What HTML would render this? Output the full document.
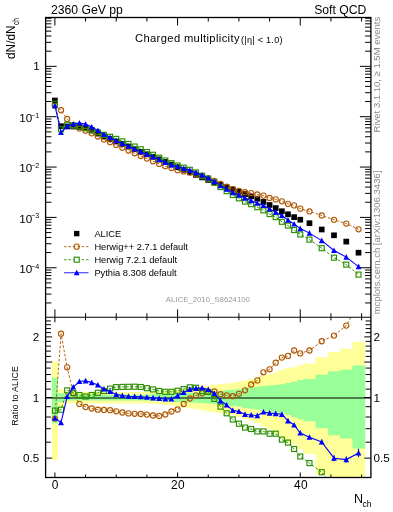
<!DOCTYPE html>
<html><head><meta charset="utf-8"><style>
html,body{margin:0;padding:0;background:#fff;width:393px;height:512px;overflow:hidden}
svg{display:block;will-change:transform}
text{font-family:"Liberation Sans",sans-serif;}
</style></head><body>
<svg width="393" height="512" viewBox="0 0 393 512">
<path d="M51.83,361.47L51.83,361.47L57.97,361.47L57.97,389.17L64.10,389.17L64.10,391.99L70.23,391.99L70.23,391.99L76.37,391.99L76.37,391.99L82.50,391.99L82.50,391.99L88.64,391.99L88.64,391.99L94.77,391.99L94.77,391.99L100.91,391.99L100.91,391.99L107.04,391.99L107.04,391.99L113.17,391.99L113.17,391.99L119.31,391.99L119.31,391.99L125.44,391.99L125.44,391.99L131.58,391.99L131.58,391.99L137.71,391.99L137.71,391.99L143.84,391.99L143.84,391.99L149.98,391.99L149.98,391.59L156.11,391.59L156.11,391.18L162.25,391.18L162.25,390.77L168.38,390.77L168.38,390.17L174.51,390.17L174.51,389.57L180.65,389.57L180.65,388.74L186.78,388.74L186.78,387.92L192.92,387.92L192.92,387.11L199.05,387.11L199.05,386.31L205.18,386.31L205.18,385.51L211.32,385.51L211.32,384.80L217.45,384.80L217.45,384.10L223.59,384.10L223.59,383.40L229.72,383.40L229.72,382.81L235.85,382.81L235.85,381.56L241.99,381.56L241.99,380.47L248.12,380.47L248.12,379.19L254.26,379.19L254.26,377.71L260.39,377.71L260.39,375.78L266.52,375.78L266.52,374.23L272.66,374.23L272.66,372.24L278.79,372.24L278.79,369.72L284.93,369.72L284.93,367.90L291.06,367.90L291.06,367.15L297.19,367.15L297.19,365.26L303.33,365.26L303.33,363.58L315.59,363.58L315.59,357.18L327.86,357.18L327.86,351.89L340.13,351.89L340.13,348.78L352.40,348.78L352.40,341.85L365.28,341.85L365.28,477.50L352.40,477.50L352.40,477.50L340.13,477.50L340.13,477.50L327.86,477.50L327.86,474.60L315.59,474.60L315.59,453.67L303.33,453.67L303.33,449.13L297.19,449.13L297.19,444.37L291.06,444.37L291.06,442.60L284.93,442.60L284.93,438.45L278.79,438.45L278.79,433.17L272.66,433.17L272.66,429.31L266.52,429.31L266.52,426.46L260.39,426.46L260.39,423.12L254.26,423.12L254.26,420.69L248.12,420.69L248.12,418.66L241.99,418.66L241.99,417.01L235.85,417.01L235.85,415.17L229.72,415.17L229.72,414.32L223.59,414.32L223.59,413.33L217.45,413.33L217.45,412.36L211.32,412.36L211.32,411.40L205.18,411.40L205.18,410.34L199.05,410.34L199.05,409.29L192.92,409.29L192.92,408.26L186.78,408.26L186.78,407.24L180.65,407.24L180.65,406.23L174.51,406.23L174.51,405.51L168.38,405.51L168.38,404.79L162.25,404.79L162.25,404.32L156.11,404.32L156.11,403.84L149.98,403.84L149.98,403.38L143.84,403.38L143.84,403.38L137.71,403.38L137.71,403.38L131.58,403.38L131.58,403.38L125.44,403.38L125.44,403.38L119.31,403.38L119.31,403.38L113.17,403.38L113.17,403.38L107.04,403.38L107.04,403.38L100.91,403.38L100.91,403.38L94.77,403.38L94.77,403.38L88.64,403.38L88.64,403.38L82.50,403.38L82.50,403.38L76.37,403.38L76.37,403.38L70.23,403.38L70.23,403.38L64.10,403.38L64.10,406.71L57.97,406.71L57.97,459.86L51.83,459.86Z" fill="#ffff99"/>
<path d="M51.83,377.64L51.83,377.64L57.97,377.64L57.97,393.23L64.10,393.23L64.10,394.66L70.23,394.66L70.23,394.66L76.37,394.66L76.37,394.66L82.50,394.66L82.50,394.66L88.64,394.66L88.64,394.66L94.77,394.66L94.77,394.66L100.91,394.66L100.91,394.66L107.04,394.66L107.04,394.66L113.17,394.66L113.17,394.66L119.31,394.66L119.31,394.66L125.44,394.66L125.44,394.66L131.58,394.66L131.58,394.66L137.71,394.66L137.71,394.66L143.84,394.66L143.84,394.66L149.98,394.66L149.98,394.37L156.11,394.37L156.11,394.09L162.25,394.09L162.25,393.80L168.38,393.80L168.38,393.52L174.51,393.52L174.51,393.23L180.65,393.23L180.65,392.99L186.78,392.99L186.78,392.74L192.92,392.74L192.92,392.49L199.05,392.49L199.05,392.24L205.18,392.24L205.18,391.99L211.32,391.99L211.32,391.45L217.45,391.45L217.45,390.91L223.59,390.91L223.59,390.37L229.72,390.37L229.72,389.81L235.85,389.81L235.85,389.25L241.99,389.25L241.99,388.22L248.12,388.22L248.12,387.59L254.26,387.59L254.26,386.89L260.39,386.89L260.39,386.05L266.52,386.05L266.52,385.43L272.66,385.43L272.66,384.98L278.79,384.98L278.79,384.37L284.93,384.37L284.93,382.88L291.06,382.88L291.06,381.63L297.19,381.63L297.19,380.12L303.33,380.12L303.33,378.91L315.59,378.91L315.59,374.77L327.86,374.77L327.86,371.26L340.13,371.26L340.13,369.66L352.40,369.66L352.40,365.50L365.28,365.50L365.28,448.50L352.40,448.50L352.40,438.59L340.13,438.59L340.13,435.16L327.86,435.16L327.86,428.31L315.59,428.31L315.59,421.15L303.33,421.15L303.33,419.22L297.19,419.22L297.19,416.90L291.06,416.90L291.06,415.06L284.93,415.06L284.93,412.95L278.79,412.95L278.79,412.12L272.66,412.12L272.66,411.50L266.52,411.50L266.52,410.69L260.39,410.69L260.39,409.57L254.26,409.57L254.26,408.68L248.12,408.68L248.12,407.88L241.99,407.88L241.99,406.61L235.85,406.61L235.85,405.94L229.72,405.94L229.72,405.27L223.59,405.27L223.59,404.63L217.45,404.63L217.45,404.00L211.32,404.00L211.32,403.38L205.18,403.38L205.18,403.10L199.05,403.10L199.05,402.82L192.92,402.82L192.92,402.54L186.78,402.54L186.78,402.26L180.65,402.26L180.65,401.98L174.51,401.98L174.51,401.67L168.38,401.67L168.38,401.36L162.25,401.36L162.25,401.05L156.11,401.05L156.11,400.74L149.98,400.74L149.98,400.43L143.84,400.43L143.84,400.43L137.71,400.43L137.71,400.43L131.58,400.43L131.58,400.43L125.44,400.43L125.44,400.43L119.31,400.43L119.31,400.43L113.17,400.43L113.17,400.43L107.04,400.43L107.04,400.43L100.91,400.43L100.91,400.43L94.77,400.43L94.77,400.43L88.64,400.43L88.64,400.43L82.50,400.43L82.50,400.43L76.37,400.43L76.37,400.43L70.23,400.43L70.23,400.43L64.10,400.43L64.10,401.98L57.97,401.98L57.97,423.23L51.83,423.23Z" fill="#99ff99"/>
<path d="M54.90,17.5v8M54.90,317.3v-8M54.90,317.3v5M54.90,477.5v-5M85.57,17.5v4M85.57,317.3v-4M85.57,317.3v3M85.57,477.5v-3M116.24,17.5v4M116.24,317.3v-4M116.24,317.3v3M116.24,477.5v-3M146.91,17.5v4M146.91,317.3v-4M146.91,317.3v3M146.91,477.5v-3M177.58,17.5v8M177.58,317.3v-8M177.58,317.3v5M177.58,477.5v-5M208.25,17.5v4M208.25,317.3v-4M208.25,317.3v3M208.25,477.5v-3M238.92,17.5v4M238.92,317.3v-4M238.92,317.3v3M238.92,477.5v-3M269.59,17.5v4M269.59,317.3v-4M269.59,317.3v3M269.59,477.5v-3M300.26,17.5v8M300.26,317.3v-8M300.26,317.3v5M300.26,477.5v-5M330.93,17.5v4M330.93,317.3v-4M330.93,317.3v3M330.93,477.5v-3M361.60,17.5v4M361.60,317.3v-4M361.60,317.3v3M361.60,477.5v-3M45.6,302.94h5.8M370.9,302.94h-5.8M45.6,294.08h5.8M370.9,294.08h-5.8M45.6,287.79h5.8M370.9,287.79h-5.8M45.6,282.91h5.8M370.9,282.91h-5.8M45.6,278.92h5.8M370.9,278.92h-5.8M45.6,275.55h5.8M370.9,275.55h-5.8M45.6,272.63h5.8M370.9,272.63h-5.8M45.6,270.05h5.8M370.9,270.05h-5.8M45.6,267.75h11M370.9,267.75h-11M45.6,252.59h5.8M370.9,252.59h-5.8M45.6,243.73h5.8M370.9,243.73h-5.8M45.6,237.44h5.8M370.9,237.44h-5.8M45.6,232.56h5.8M370.9,232.56h-5.8M45.6,228.57h5.8M370.9,228.57h-5.8M45.6,225.20h5.8M370.9,225.20h-5.8M45.6,222.28h5.8M370.9,222.28h-5.8M45.6,219.70h5.8M370.9,219.70h-5.8M45.6,217.40h11M370.9,217.40h-11M45.6,202.24h5.8M370.9,202.24h-5.8M45.6,193.38h5.8M370.9,193.38h-5.8M45.6,187.09h5.8M370.9,187.09h-5.8M45.6,182.21h5.8M370.9,182.21h-5.8M45.6,178.22h5.8M370.9,178.22h-5.8M45.6,174.85h5.8M370.9,174.85h-5.8M45.6,171.93h5.8M370.9,171.93h-5.8M45.6,169.35h5.8M370.9,169.35h-5.8M45.6,167.05h11M370.9,167.05h-11M45.6,151.89h5.8M370.9,151.89h-5.8M45.6,143.03h5.8M370.9,143.03h-5.8M45.6,136.74h5.8M370.9,136.74h-5.8M45.6,131.86h5.8M370.9,131.86h-5.8M45.6,127.87h5.8M370.9,127.87h-5.8M45.6,124.50h5.8M370.9,124.50h-5.8M45.6,121.58h5.8M370.9,121.58h-5.8M45.6,119.00h5.8M370.9,119.00h-5.8M45.6,116.70h11M370.9,116.70h-11M45.6,101.54h5.8M370.9,101.54h-5.8M45.6,92.68h5.8M370.9,92.68h-5.8M45.6,86.39h5.8M370.9,86.39h-5.8M45.6,81.51h5.8M370.9,81.51h-5.8M45.6,77.52h5.8M370.9,77.52h-5.8M45.6,74.15h5.8M370.9,74.15h-5.8M45.6,71.23h5.8M370.9,71.23h-5.8M45.6,68.65h5.8M370.9,68.65h-5.8M45.6,66.35h11M370.9,66.35h-11M45.6,51.19h5.8M370.9,51.19h-5.8M45.6,42.33h5.8M370.9,42.33h-5.8M45.6,36.04h5.8M370.9,36.04h-5.8M45.6,31.16h5.8M370.9,31.16h-5.8M45.6,27.17h5.8M370.9,27.17h-5.8M45.6,23.80h5.8M370.9,23.80h-5.8M45.6,20.88h5.8M370.9,20.88h-5.8M45.6,18.30h5.8M370.9,18.30h-5.8M45.6,458.10h6.6M370.9,458.10h-6.6M45.6,442.16h5.3M370.9,442.16h-5.3M45.6,428.68h5.3M370.9,428.68h-5.3M45.6,417.01h5.3M370.9,417.01h-5.3M45.6,406.71h5.3M370.9,406.71h-5.3M45.6,397.50h6.6M370.9,397.50h-6.6M45.6,389.17h5.3M370.9,389.17h-5.3M45.6,381.56h5.3M370.9,381.56h-5.3M45.6,374.56h5.3M370.9,374.56h-5.3M45.6,368.08h5.3M370.9,368.08h-5.3M45.6,362.05h6.6M370.9,362.05h-6.6M45.6,356.41h5.3M370.9,356.41h-5.3M45.6,351.11h5.3M370.9,351.11h-5.3M45.6,346.11h5.3M370.9,346.11h-5.3M45.6,341.39h5.3M370.9,341.39h-5.3M45.6,336.90h6.6M370.9,336.90h-6.6M45.6,332.64h5.3M370.9,332.64h-5.3M45.6,328.57h5.3M370.9,328.57h-5.3M45.6,324.68h5.3M370.9,324.68h-5.3M45.6,320.96h5.3M370.9,320.96h-5.3" stroke="#000" stroke-width="1" fill="none"/>
<line x1="45.6" y1="397.95" x2="370.9" y2="397.95" stroke="#000" stroke-width="1.05"/>
<defs><clipPath id="c1"><rect x="45.5" y="17.5" width="325.8" height="299.8"/></clipPath><clipPath id="c2"><rect x="45.5" y="317.3" width="325.8" height="160.4"/></clipPath></defs>
<path d="M321.73,439.50v5.00M334.00,455.20v6.00M346.26,456.60v6.00M358.53,448.80v8.40" stroke="#0000ff" stroke-width="1.1" fill="none"/>
<g clip-path="url(#c2)"><polyline points="54.90,418.60 61.03,333.70 67.17,367.30 73.30,393.30 79.44,403.90 85.57,407.00 91.70,408.50 97.84,409.70 103.97,410.00 110.11,410.20 116.24,411.30 122.37,412.50 128.51,413.40 134.64,413.80 140.78,414.00 146.91,414.60 153.04,415.50 159.18,416.00 165.31,414.50 171.45,411.50 177.58,409.50 183.71,404.00 189.85,398.50 195.98,395.30 202.12,393.30 208.25,391.80 214.38,391.50 220.52,394.20 226.65,395.30 232.79,396.20 238.92,393.80 245.05,390.30 251.19,384.50 257.32,380.40 263.46,372.30 269.59,369.30 275.72,362.70 281.86,357.60 287.99,355.90 294.13,350.50 300.26,353.40 309.46,350.50 321.73,341.25 334.00,335.60 346.26,325.60 358.53,303.90" fill="none" stroke="#b05800" stroke-width="0.95" stroke-dasharray="2.6,1.8"/>
<circle cx="54.90" cy="418.60" r="2.6" fill="none" stroke="#b05800" stroke-width="1.1"/>
<circle cx="61.03" cy="333.70" r="2.6" fill="none" stroke="#b05800" stroke-width="1.1"/>
<circle cx="67.17" cy="367.30" r="2.6" fill="none" stroke="#b05800" stroke-width="1.1"/>
<circle cx="73.30" cy="393.30" r="2.6" fill="none" stroke="#b05800" stroke-width="1.1"/>
<circle cx="79.44" cy="403.90" r="2.6" fill="none" stroke="#b05800" stroke-width="1.1"/>
<circle cx="85.57" cy="407.00" r="2.6" fill="none" stroke="#b05800" stroke-width="1.1"/>
<circle cx="91.70" cy="408.50" r="2.6" fill="none" stroke="#b05800" stroke-width="1.1"/>
<circle cx="97.84" cy="409.70" r="2.6" fill="none" stroke="#b05800" stroke-width="1.1"/>
<circle cx="103.97" cy="410.00" r="2.6" fill="none" stroke="#b05800" stroke-width="1.1"/>
<circle cx="110.11" cy="410.20" r="2.6" fill="none" stroke="#b05800" stroke-width="1.1"/>
<circle cx="116.24" cy="411.30" r="2.6" fill="none" stroke="#b05800" stroke-width="1.1"/>
<circle cx="122.37" cy="412.50" r="2.6" fill="none" stroke="#b05800" stroke-width="1.1"/>
<circle cx="128.51" cy="413.40" r="2.6" fill="none" stroke="#b05800" stroke-width="1.1"/>
<circle cx="134.64" cy="413.80" r="2.6" fill="none" stroke="#b05800" stroke-width="1.1"/>
<circle cx="140.78" cy="414.00" r="2.6" fill="none" stroke="#b05800" stroke-width="1.1"/>
<circle cx="146.91" cy="414.60" r="2.6" fill="none" stroke="#b05800" stroke-width="1.1"/>
<circle cx="153.04" cy="415.50" r="2.6" fill="none" stroke="#b05800" stroke-width="1.1"/>
<circle cx="159.18" cy="416.00" r="2.6" fill="none" stroke="#b05800" stroke-width="1.1"/>
<circle cx="165.31" cy="414.50" r="2.6" fill="none" stroke="#b05800" stroke-width="1.1"/>
<circle cx="171.45" cy="411.50" r="2.6" fill="none" stroke="#b05800" stroke-width="1.1"/>
<circle cx="177.58" cy="409.50" r="2.6" fill="none" stroke="#b05800" stroke-width="1.1"/>
<circle cx="183.71" cy="404.00" r="2.6" fill="none" stroke="#b05800" stroke-width="1.1"/>
<circle cx="189.85" cy="398.50" r="2.6" fill="none" stroke="#b05800" stroke-width="1.1"/>
<circle cx="195.98" cy="395.30" r="2.6" fill="none" stroke="#b05800" stroke-width="1.1"/>
<circle cx="202.12" cy="393.30" r="2.6" fill="none" stroke="#b05800" stroke-width="1.1"/>
<circle cx="208.25" cy="391.80" r="2.6" fill="none" stroke="#b05800" stroke-width="1.1"/>
<circle cx="214.38" cy="391.50" r="2.6" fill="none" stroke="#b05800" stroke-width="1.1"/>
<circle cx="220.52" cy="394.20" r="2.6" fill="none" stroke="#b05800" stroke-width="1.1"/>
<circle cx="226.65" cy="395.30" r="2.6" fill="none" stroke="#b05800" stroke-width="1.1"/>
<circle cx="232.79" cy="396.20" r="2.6" fill="none" stroke="#b05800" stroke-width="1.1"/>
<circle cx="238.92" cy="393.80" r="2.6" fill="none" stroke="#b05800" stroke-width="1.1"/>
<circle cx="245.05" cy="390.30" r="2.6" fill="none" stroke="#b05800" stroke-width="1.1"/>
<circle cx="251.19" cy="384.50" r="2.6" fill="none" stroke="#b05800" stroke-width="1.1"/>
<circle cx="257.32" cy="380.40" r="2.6" fill="none" stroke="#b05800" stroke-width="1.1"/>
<circle cx="263.46" cy="372.30" r="2.6" fill="none" stroke="#b05800" stroke-width="1.1"/>
<circle cx="269.59" cy="369.30" r="2.6" fill="none" stroke="#b05800" stroke-width="1.1"/>
<circle cx="275.72" cy="362.70" r="2.6" fill="none" stroke="#b05800" stroke-width="1.1"/>
<circle cx="281.86" cy="357.60" r="2.6" fill="none" stroke="#b05800" stroke-width="1.1"/>
<circle cx="287.99" cy="355.90" r="2.6" fill="none" stroke="#b05800" stroke-width="1.1"/>
<circle cx="294.13" cy="350.50" r="2.6" fill="none" stroke="#b05800" stroke-width="1.1"/>
<circle cx="300.26" cy="353.40" r="2.6" fill="none" stroke="#b05800" stroke-width="1.1"/>
<circle cx="309.46" cy="350.50" r="2.6" fill="none" stroke="#b05800" stroke-width="1.1"/>
<circle cx="321.73" cy="341.25" r="2.6" fill="none" stroke="#b05800" stroke-width="1.1"/>
<circle cx="334.00" cy="335.60" r="2.6" fill="none" stroke="#b05800" stroke-width="1.1"/>
<circle cx="346.26" cy="325.60" r="2.6" fill="none" stroke="#b05800" stroke-width="1.1"/>
<circle cx="358.53" cy="303.90" r="2.6" fill="none" stroke="#b05800" stroke-width="1.1"/>
</g>
<g clip-path="url(#c2)"><polyline points="54.90,410.60 61.03,409.70 67.17,390.40 73.30,393.00 79.44,395.00 85.57,396.50 91.70,395.00 97.84,392.80 103.97,391.00 110.11,388.60 116.24,387.10 122.37,386.90 128.51,386.80 134.64,386.70 140.78,387.00 146.91,388.20 153.04,389.40 159.18,391.00 165.31,391.80 171.45,391.80 177.58,390.70 183.71,389.10 189.85,387.30 195.98,387.70 202.12,391.00 208.25,392.00 214.38,398.90 220.52,406.60 226.65,413.30 232.79,419.50 238.92,423.70 245.05,427.60 251.19,429.00 257.32,431.40 263.46,431.40 269.59,433.70 275.72,433.70 281.86,439.60 287.99,442.60 294.13,449.00 300.26,456.50 309.46,463.10 321.73,472.20 334.00,487.00 346.26,489.50 358.53,485.10" fill="none" stroke="#2a8e00" stroke-width="0.95" stroke-dasharray="2.6,1.8"/>
<rect x="52.40" y="408.10" width="5.0" height="5.0" fill="none" stroke="#2a8e00" stroke-width="1.15"/>
<rect x="58.53" y="407.20" width="5.0" height="5.0" fill="none" stroke="#2a8e00" stroke-width="1.15"/>
<rect x="64.67" y="387.90" width="5.0" height="5.0" fill="none" stroke="#2a8e00" stroke-width="1.15"/>
<rect x="70.80" y="390.50" width="5.0" height="5.0" fill="none" stroke="#2a8e00" stroke-width="1.15"/>
<rect x="76.94" y="392.50" width="5.0" height="5.0" fill="none" stroke="#2a8e00" stroke-width="1.15"/>
<rect x="83.07" y="394.00" width="5.0" height="5.0" fill="none" stroke="#2a8e00" stroke-width="1.15"/>
<rect x="89.20" y="392.50" width="5.0" height="5.0" fill="none" stroke="#2a8e00" stroke-width="1.15"/>
<rect x="95.34" y="390.30" width="5.0" height="5.0" fill="none" stroke="#2a8e00" stroke-width="1.15"/>
<rect x="101.47" y="388.50" width="5.0" height="5.0" fill="none" stroke="#2a8e00" stroke-width="1.15"/>
<rect x="107.61" y="386.10" width="5.0" height="5.0" fill="none" stroke="#2a8e00" stroke-width="1.15"/>
<rect x="113.74" y="384.60" width="5.0" height="5.0" fill="none" stroke="#2a8e00" stroke-width="1.15"/>
<rect x="119.87" y="384.40" width="5.0" height="5.0" fill="none" stroke="#2a8e00" stroke-width="1.15"/>
<rect x="126.01" y="384.30" width="5.0" height="5.0" fill="none" stroke="#2a8e00" stroke-width="1.15"/>
<rect x="132.14" y="384.20" width="5.0" height="5.0" fill="none" stroke="#2a8e00" stroke-width="1.15"/>
<rect x="138.28" y="384.50" width="5.0" height="5.0" fill="none" stroke="#2a8e00" stroke-width="1.15"/>
<rect x="144.41" y="385.70" width="5.0" height="5.0" fill="none" stroke="#2a8e00" stroke-width="1.15"/>
<rect x="150.54" y="386.90" width="5.0" height="5.0" fill="none" stroke="#2a8e00" stroke-width="1.15"/>
<rect x="156.68" y="388.50" width="5.0" height="5.0" fill="none" stroke="#2a8e00" stroke-width="1.15"/>
<rect x="162.81" y="389.30" width="5.0" height="5.0" fill="none" stroke="#2a8e00" stroke-width="1.15"/>
<rect x="168.95" y="389.30" width="5.0" height="5.0" fill="none" stroke="#2a8e00" stroke-width="1.15"/>
<rect x="175.08" y="388.20" width="5.0" height="5.0" fill="none" stroke="#2a8e00" stroke-width="1.15"/>
<rect x="181.21" y="386.60" width="5.0" height="5.0" fill="none" stroke="#2a8e00" stroke-width="1.15"/>
<rect x="187.35" y="384.80" width="5.0" height="5.0" fill="none" stroke="#2a8e00" stroke-width="1.15"/>
<rect x="193.48" y="385.20" width="5.0" height="5.0" fill="none" stroke="#2a8e00" stroke-width="1.15"/>
<rect x="199.62" y="388.50" width="5.0" height="5.0" fill="none" stroke="#2a8e00" stroke-width="1.15"/>
<rect x="205.75" y="389.50" width="5.0" height="5.0" fill="none" stroke="#2a8e00" stroke-width="1.15"/>
<rect x="211.88" y="396.40" width="5.0" height="5.0" fill="none" stroke="#2a8e00" stroke-width="1.15"/>
<rect x="218.02" y="404.10" width="5.0" height="5.0" fill="none" stroke="#2a8e00" stroke-width="1.15"/>
<rect x="224.15" y="410.80" width="5.0" height="5.0" fill="none" stroke="#2a8e00" stroke-width="1.15"/>
<rect x="230.29" y="417.00" width="5.0" height="5.0" fill="none" stroke="#2a8e00" stroke-width="1.15"/>
<rect x="236.42" y="421.20" width="5.0" height="5.0" fill="none" stroke="#2a8e00" stroke-width="1.15"/>
<rect x="242.55" y="425.10" width="5.0" height="5.0" fill="none" stroke="#2a8e00" stroke-width="1.15"/>
<rect x="248.69" y="426.50" width="5.0" height="5.0" fill="none" stroke="#2a8e00" stroke-width="1.15"/>
<rect x="254.82" y="428.90" width="5.0" height="5.0" fill="none" stroke="#2a8e00" stroke-width="1.15"/>
<rect x="260.96" y="428.90" width="5.0" height="5.0" fill="none" stroke="#2a8e00" stroke-width="1.15"/>
<rect x="267.09" y="431.20" width="5.0" height="5.0" fill="none" stroke="#2a8e00" stroke-width="1.15"/>
<rect x="273.22" y="431.20" width="5.0" height="5.0" fill="none" stroke="#2a8e00" stroke-width="1.15"/>
<rect x="279.36" y="437.10" width="5.0" height="5.0" fill="none" stroke="#2a8e00" stroke-width="1.15"/>
<rect x="285.49" y="440.10" width="5.0" height="5.0" fill="none" stroke="#2a8e00" stroke-width="1.15"/>
<rect x="291.63" y="446.50" width="5.0" height="5.0" fill="none" stroke="#2a8e00" stroke-width="1.15"/>
<rect x="297.76" y="454.00" width="5.0" height="5.0" fill="none" stroke="#2a8e00" stroke-width="1.15"/>
<rect x="306.96" y="460.60" width="5.0" height="5.0" fill="none" stroke="#2a8e00" stroke-width="1.15"/>
<rect x="319.23" y="469.70" width="5.0" height="5.0" fill="none" stroke="#2a8e00" stroke-width="1.15"/>
<rect x="331.50" y="484.50" width="5.0" height="5.0" fill="none" stroke="#2a8e00" stroke-width="1.15"/>
<rect x="343.76" y="487.00" width="5.0" height="5.0" fill="none" stroke="#2a8e00" stroke-width="1.15"/>
<rect x="356.03" y="482.60" width="5.0" height="5.0" fill="none" stroke="#2a8e00" stroke-width="1.15"/>
</g>
<g clip-path="url(#c2)"><polyline points="54.90,418.20 61.03,422.60 67.17,396.50 73.30,387.00 79.44,381.50 85.57,380.80 91.70,382.60 97.84,385.00 103.97,389.00 110.11,391.50 116.24,394.40 122.37,395.50 128.51,396.20 134.64,396.50 140.78,396.70 146.91,397.20 153.04,397.80 159.18,398.30 165.31,399.00 171.45,398.90 177.58,395.80 183.71,392.40 189.85,389.30 195.98,388.30 202.12,388.00 208.25,389.50 214.38,393.50 220.52,400.80 226.65,405.00 232.79,410.40 238.92,411.50 245.05,414.30 251.19,415.00 257.32,415.60 263.46,412.00 269.59,413.10 275.72,413.60 281.86,414.30 287.99,420.80 294.13,425.00 300.26,433.00 309.46,437.20 321.73,442.00 334.00,458.20 346.26,459.60 358.53,453.00" fill="none" stroke="#0000ff" stroke-width="1.1"/>
<path d="M52.00,420.80 L57.80,420.80 L54.90,415.20 Z" fill="#0000ff"/>
<path d="M58.13,425.20 L63.93,425.20 L61.03,419.60 Z" fill="#0000ff"/>
<path d="M64.27,399.10 L70.07,399.10 L67.17,393.50 Z" fill="#0000ff"/>
<path d="M70.40,389.60 L76.20,389.60 L73.30,384.00 Z" fill="#0000ff"/>
<path d="M76.54,384.10 L82.34,384.10 L79.44,378.50 Z" fill="#0000ff"/>
<path d="M82.67,383.40 L88.47,383.40 L85.57,377.80 Z" fill="#0000ff"/>
<path d="M88.80,385.20 L94.60,385.20 L91.70,379.60 Z" fill="#0000ff"/>
<path d="M94.94,387.60 L100.74,387.60 L97.84,382.00 Z" fill="#0000ff"/>
<path d="M101.07,391.60 L106.87,391.60 L103.97,386.00 Z" fill="#0000ff"/>
<path d="M107.21,394.10 L113.01,394.10 L110.11,388.50 Z" fill="#0000ff"/>
<path d="M113.34,397.00 L119.14,397.00 L116.24,391.40 Z" fill="#0000ff"/>
<path d="M119.47,398.10 L125.27,398.10 L122.37,392.50 Z" fill="#0000ff"/>
<path d="M125.61,398.80 L131.41,398.80 L128.51,393.20 Z" fill="#0000ff"/>
<path d="M131.74,399.10 L137.54,399.10 L134.64,393.50 Z" fill="#0000ff"/>
<path d="M137.88,399.30 L143.68,399.30 L140.78,393.70 Z" fill="#0000ff"/>
<path d="M144.01,399.80 L149.81,399.80 L146.91,394.20 Z" fill="#0000ff"/>
<path d="M150.14,400.40 L155.94,400.40 L153.04,394.80 Z" fill="#0000ff"/>
<path d="M156.28,400.90 L162.08,400.90 L159.18,395.30 Z" fill="#0000ff"/>
<path d="M162.41,401.60 L168.21,401.60 L165.31,396.00 Z" fill="#0000ff"/>
<path d="M168.55,401.50 L174.35,401.50 L171.45,395.90 Z" fill="#0000ff"/>
<path d="M174.68,398.40 L180.48,398.40 L177.58,392.80 Z" fill="#0000ff"/>
<path d="M180.81,395.00 L186.61,395.00 L183.71,389.40 Z" fill="#0000ff"/>
<path d="M186.95,391.90 L192.75,391.90 L189.85,386.30 Z" fill="#0000ff"/>
<path d="M193.08,390.90 L198.88,390.90 L195.98,385.30 Z" fill="#0000ff"/>
<path d="M199.22,390.60 L205.02,390.60 L202.12,385.00 Z" fill="#0000ff"/>
<path d="M205.35,392.10 L211.15,392.10 L208.25,386.50 Z" fill="#0000ff"/>
<path d="M211.48,396.10 L217.28,396.10 L214.38,390.50 Z" fill="#0000ff"/>
<path d="M217.62,403.40 L223.42,403.40 L220.52,397.80 Z" fill="#0000ff"/>
<path d="M223.75,407.60 L229.55,407.60 L226.65,402.00 Z" fill="#0000ff"/>
<path d="M229.89,413.00 L235.69,413.00 L232.79,407.40 Z" fill="#0000ff"/>
<path d="M236.02,414.10 L241.82,414.10 L238.92,408.50 Z" fill="#0000ff"/>
<path d="M242.15,416.90 L247.95,416.90 L245.05,411.30 Z" fill="#0000ff"/>
<path d="M248.29,417.60 L254.09,417.60 L251.19,412.00 Z" fill="#0000ff"/>
<path d="M254.42,418.20 L260.22,418.20 L257.32,412.60 Z" fill="#0000ff"/>
<path d="M260.56,414.60 L266.36,414.60 L263.46,409.00 Z" fill="#0000ff"/>
<path d="M266.69,415.70 L272.49,415.70 L269.59,410.10 Z" fill="#0000ff"/>
<path d="M272.82,416.20 L278.62,416.20 L275.72,410.60 Z" fill="#0000ff"/>
<path d="M278.96,416.90 L284.76,416.90 L281.86,411.30 Z" fill="#0000ff"/>
<path d="M285.09,423.40 L290.89,423.40 L287.99,417.80 Z" fill="#0000ff"/>
<path d="M291.23,427.60 L297.03,427.60 L294.13,422.00 Z" fill="#0000ff"/>
<path d="M297.36,435.60 L303.16,435.60 L300.26,430.00 Z" fill="#0000ff"/>
<path d="M306.56,439.80 L312.36,439.80 L309.46,434.20 Z" fill="#0000ff"/>
<path d="M318.83,444.60 L324.63,444.60 L321.73,439.00 Z" fill="#0000ff"/>
<path d="M331.10,460.80 L336.90,460.80 L334.00,455.20 Z" fill="#0000ff"/>
<path d="M343.37,462.20 L349.16,462.20 L346.26,456.60 Z" fill="#0000ff"/>
<path d="M355.63,455.60 L361.43,455.60 L358.53,450.00 Z" fill="#0000ff"/>
</g>
<g clip-path="url(#c1)">
<rect x="52.05" y="97.65" width="5.7" height="5.7" fill="#000"/>
<rect x="58.18" y="123.35" width="5.7" height="5.7" fill="#000"/>
<rect x="64.32" y="123.65" width="5.7" height="5.7" fill="#000"/>
<rect x="70.45" y="123.65" width="5.7" height="5.7" fill="#000"/>
<rect x="76.59" y="124.15" width="5.7" height="5.7" fill="#000"/>
<rect x="82.72" y="125.45" width="5.7" height="5.7" fill="#000"/>
<rect x="88.85" y="127.75" width="5.7" height="5.7" fill="#000"/>
<rect x="94.99" y="130.65" width="5.7" height="5.7" fill="#000"/>
<rect x="101.12" y="133.65" width="5.7" height="5.7" fill="#000"/>
<rect x="107.26" y="136.15" width="5.7" height="5.7" fill="#000"/>
<rect x="113.39" y="138.65" width="5.7" height="5.7" fill="#000"/>
<rect x="119.52" y="141.15" width="5.7" height="5.7" fill="#000"/>
<rect x="125.66" y="143.75" width="5.7" height="5.7" fill="#000"/>
<rect x="131.79" y="146.40" width="5.7" height="5.7" fill="#000"/>
<rect x="137.93" y="149.05" width="5.7" height="5.7" fill="#000"/>
<rect x="144.06" y="151.50" width="5.7" height="5.7" fill="#000"/>
<rect x="150.19" y="153.95" width="5.7" height="5.7" fill="#000"/>
<rect x="156.33" y="156.50" width="5.7" height="5.7" fill="#000"/>
<rect x="162.46" y="159.05" width="5.7" height="5.7" fill="#000"/>
<rect x="168.60" y="161.70" width="5.7" height="5.7" fill="#000"/>
<rect x="174.73" y="164.35" width="5.7" height="5.7" fill="#000"/>
<rect x="180.86" y="166.92" width="5.7" height="5.7" fill="#000"/>
<rect x="187.00" y="169.48" width="5.7" height="5.7" fill="#000"/>
<rect x="193.13" y="172.05" width="5.7" height="5.7" fill="#000"/>
<rect x="199.27" y="174.55" width="5.7" height="5.7" fill="#000"/>
<rect x="205.40" y="177.05" width="5.7" height="5.7" fill="#000"/>
<rect x="211.53" y="179.55" width="5.7" height="5.7" fill="#000"/>
<rect x="217.67" y="181.95" width="5.7" height="5.7" fill="#000"/>
<rect x="223.80" y="184.35" width="5.7" height="5.7" fill="#000"/>
<rect x="229.94" y="186.63" width="5.7" height="5.7" fill="#000"/>
<rect x="236.07" y="188.91" width="5.7" height="5.7" fill="#000"/>
<rect x="242.20" y="191.19" width="5.7" height="5.7" fill="#000"/>
<rect x="248.34" y="193.47" width="5.7" height="5.7" fill="#000"/>
<rect x="254.47" y="195.85" width="5.7" height="5.7" fill="#000"/>
<rect x="260.61" y="199.05" width="5.7" height="5.7" fill="#000"/>
<rect x="266.74" y="202.15" width="5.7" height="5.7" fill="#000"/>
<rect x="272.87" y="205.25" width="5.7" height="5.7" fill="#000"/>
<rect x="279.01" y="208.40" width="5.7" height="5.7" fill="#000"/>
<rect x="285.14" y="211.45" width="5.7" height="5.7" fill="#000"/>
<rect x="291.28" y="214.30" width="5.7" height="5.7" fill="#000"/>
<rect x="297.41" y="216.85" width="5.7" height="5.7" fill="#000"/>
<rect x="306.61" y="220.35" width="5.7" height="5.7" fill="#000"/>
<rect x="318.88" y="226.65" width="5.7" height="5.7" fill="#000"/>
<rect x="331.15" y="232.45" width="5.7" height="5.7" fill="#000"/>
<rect x="343.41" y="238.75" width="5.7" height="5.7" fill="#000"/>
<rect x="355.68" y="249.85" width="5.7" height="5.7" fill="#000"/>
</g>
<g clip-path="url(#c1)"><polyline points="54.90,105.78 61.03,110.25 67.17,118.95 73.30,125.45 79.44,128.60 85.57,130.68 91.70,133.35 97.84,136.55 103.97,139.62 110.11,142.18 116.24,144.95 122.37,147.75 128.51,150.57 134.64,153.32 140.78,156.03 146.91,158.62 153.04,161.30 159.18,163.97 165.31,166.15 171.45,168.05 177.58,170.20 183.71,171.39 189.85,172.58 195.98,174.35 202.12,176.35 208.25,178.48 214.38,180.90 220.52,183.98 226.65,186.65 232.79,189.15 238.92,190.83 245.05,192.24 251.19,193.07 257.32,194.43 263.46,195.60 269.59,197.95 275.72,199.40 281.86,201.28 287.99,203.90 294.13,205.40 300.26,208.67 309.46,211.45 321.73,215.44 334.00,219.83 346.26,223.62 358.53,229.30" fill="none" stroke="#b05800" stroke-width="0.95" stroke-dasharray="2.6,1.8"/>
<circle cx="54.90" cy="105.78" r="2.6" fill="none" stroke="#b05800" stroke-width="1.1"/>
<circle cx="61.03" cy="110.25" r="2.6" fill="none" stroke="#b05800" stroke-width="1.1"/>
<circle cx="67.17" cy="118.95" r="2.6" fill="none" stroke="#b05800" stroke-width="1.1"/>
<circle cx="73.30" cy="125.45" r="2.6" fill="none" stroke="#b05800" stroke-width="1.1"/>
<circle cx="79.44" cy="128.60" r="2.6" fill="none" stroke="#b05800" stroke-width="1.1"/>
<circle cx="85.57" cy="130.68" r="2.6" fill="none" stroke="#b05800" stroke-width="1.1"/>
<circle cx="91.70" cy="133.35" r="2.6" fill="none" stroke="#b05800" stroke-width="1.1"/>
<circle cx="97.84" cy="136.55" r="2.6" fill="none" stroke="#b05800" stroke-width="1.1"/>
<circle cx="103.97" cy="139.62" r="2.6" fill="none" stroke="#b05800" stroke-width="1.1"/>
<circle cx="110.11" cy="142.18" r="2.6" fill="none" stroke="#b05800" stroke-width="1.1"/>
<circle cx="116.24" cy="144.95" r="2.6" fill="none" stroke="#b05800" stroke-width="1.1"/>
<circle cx="122.37" cy="147.75" r="2.6" fill="none" stroke="#b05800" stroke-width="1.1"/>
<circle cx="128.51" cy="150.57" r="2.6" fill="none" stroke="#b05800" stroke-width="1.1"/>
<circle cx="134.64" cy="153.32" r="2.6" fill="none" stroke="#b05800" stroke-width="1.1"/>
<circle cx="140.78" cy="156.03" r="2.6" fill="none" stroke="#b05800" stroke-width="1.1"/>
<circle cx="146.91" cy="158.62" r="2.6" fill="none" stroke="#b05800" stroke-width="1.1"/>
<circle cx="153.04" cy="161.30" r="2.6" fill="none" stroke="#b05800" stroke-width="1.1"/>
<circle cx="159.18" cy="163.97" r="2.6" fill="none" stroke="#b05800" stroke-width="1.1"/>
<circle cx="165.31" cy="166.15" r="2.6" fill="none" stroke="#b05800" stroke-width="1.1"/>
<circle cx="171.45" cy="168.05" r="2.6" fill="none" stroke="#b05800" stroke-width="1.1"/>
<circle cx="177.58" cy="170.20" r="2.6" fill="none" stroke="#b05800" stroke-width="1.1"/>
<circle cx="183.71" cy="171.39" r="2.6" fill="none" stroke="#b05800" stroke-width="1.1"/>
<circle cx="189.85" cy="172.58" r="2.6" fill="none" stroke="#b05800" stroke-width="1.1"/>
<circle cx="195.98" cy="174.35" r="2.6" fill="none" stroke="#b05800" stroke-width="1.1"/>
<circle cx="202.12" cy="176.35" r="2.6" fill="none" stroke="#b05800" stroke-width="1.1"/>
<circle cx="208.25" cy="178.48" r="2.6" fill="none" stroke="#b05800" stroke-width="1.1"/>
<circle cx="214.38" cy="180.90" r="2.6" fill="none" stroke="#b05800" stroke-width="1.1"/>
<circle cx="220.52" cy="183.98" r="2.6" fill="none" stroke="#b05800" stroke-width="1.1"/>
<circle cx="226.65" cy="186.65" r="2.6" fill="none" stroke="#b05800" stroke-width="1.1"/>
<circle cx="232.79" cy="189.15" r="2.6" fill="none" stroke="#b05800" stroke-width="1.1"/>
<circle cx="238.92" cy="190.83" r="2.6" fill="none" stroke="#b05800" stroke-width="1.1"/>
<circle cx="245.05" cy="192.24" r="2.6" fill="none" stroke="#b05800" stroke-width="1.1"/>
<circle cx="251.19" cy="193.07" r="2.6" fill="none" stroke="#b05800" stroke-width="1.1"/>
<circle cx="257.32" cy="194.43" r="2.6" fill="none" stroke="#b05800" stroke-width="1.1"/>
<circle cx="263.46" cy="195.60" r="2.6" fill="none" stroke="#b05800" stroke-width="1.1"/>
<circle cx="269.59" cy="197.95" r="2.6" fill="none" stroke="#b05800" stroke-width="1.1"/>
<circle cx="275.72" cy="199.40" r="2.6" fill="none" stroke="#b05800" stroke-width="1.1"/>
<circle cx="281.86" cy="201.28" r="2.6" fill="none" stroke="#b05800" stroke-width="1.1"/>
<circle cx="287.99" cy="203.90" r="2.6" fill="none" stroke="#b05800" stroke-width="1.1"/>
<circle cx="294.13" cy="205.40" r="2.6" fill="none" stroke="#b05800" stroke-width="1.1"/>
<circle cx="300.26" cy="208.67" r="2.6" fill="none" stroke="#b05800" stroke-width="1.1"/>
<circle cx="309.46" cy="211.45" r="2.6" fill="none" stroke="#b05800" stroke-width="1.1"/>
<circle cx="321.73" cy="215.44" r="2.6" fill="none" stroke="#b05800" stroke-width="1.1"/>
<circle cx="334.00" cy="219.83" r="2.6" fill="none" stroke="#b05800" stroke-width="1.1"/>
<circle cx="346.26" cy="223.62" r="2.6" fill="none" stroke="#b05800" stroke-width="1.1"/>
<circle cx="358.53" cy="229.30" r="2.6" fill="none" stroke="#b05800" stroke-width="1.1"/>
</g>
<g clip-path="url(#c1)"><polyline points="54.90,103.78 61.03,129.25 67.17,124.72 73.30,125.38 79.44,126.38 85.57,128.05 91.70,129.97 97.84,132.32 103.97,134.88 110.11,136.78 116.24,138.90 122.37,141.35 128.51,143.93 134.64,146.55 140.78,149.28 146.91,152.02 153.04,154.77 159.18,157.72 165.31,160.48 171.45,163.12 177.58,165.50 183.71,167.67 189.85,169.78 195.98,172.45 202.12,175.78 208.25,178.53 214.38,182.75 220.52,187.08 226.65,191.15 232.79,194.98 238.92,198.31 245.05,201.56 251.19,204.19 257.32,207.18 263.46,210.38 269.59,214.05 275.72,217.15 281.86,221.78 287.99,225.57 294.13,230.03 300.26,234.45 309.46,239.60 321.73,248.18 334.00,257.68 346.26,264.60 358.53,274.60" fill="none" stroke="#2a8e00" stroke-width="0.95" stroke-dasharray="2.6,1.8"/>
<rect x="52.40" y="101.28" width="5.0" height="5.0" fill="none" stroke="#2a8e00" stroke-width="1.15"/>
<rect x="58.53" y="126.75" width="5.0" height="5.0" fill="none" stroke="#2a8e00" stroke-width="1.15"/>
<rect x="64.67" y="122.22" width="5.0" height="5.0" fill="none" stroke="#2a8e00" stroke-width="1.15"/>
<rect x="70.80" y="122.88" width="5.0" height="5.0" fill="none" stroke="#2a8e00" stroke-width="1.15"/>
<rect x="76.94" y="123.88" width="5.0" height="5.0" fill="none" stroke="#2a8e00" stroke-width="1.15"/>
<rect x="83.07" y="125.55" width="5.0" height="5.0" fill="none" stroke="#2a8e00" stroke-width="1.15"/>
<rect x="89.20" y="127.47" width="5.0" height="5.0" fill="none" stroke="#2a8e00" stroke-width="1.15"/>
<rect x="95.34" y="129.82" width="5.0" height="5.0" fill="none" stroke="#2a8e00" stroke-width="1.15"/>
<rect x="101.47" y="132.38" width="5.0" height="5.0" fill="none" stroke="#2a8e00" stroke-width="1.15"/>
<rect x="107.61" y="134.28" width="5.0" height="5.0" fill="none" stroke="#2a8e00" stroke-width="1.15"/>
<rect x="113.74" y="136.40" width="5.0" height="5.0" fill="none" stroke="#2a8e00" stroke-width="1.15"/>
<rect x="119.87" y="138.85" width="5.0" height="5.0" fill="none" stroke="#2a8e00" stroke-width="1.15"/>
<rect x="126.01" y="141.43" width="5.0" height="5.0" fill="none" stroke="#2a8e00" stroke-width="1.15"/>
<rect x="132.14" y="144.05" width="5.0" height="5.0" fill="none" stroke="#2a8e00" stroke-width="1.15"/>
<rect x="138.28" y="146.78" width="5.0" height="5.0" fill="none" stroke="#2a8e00" stroke-width="1.15"/>
<rect x="144.41" y="149.52" width="5.0" height="5.0" fill="none" stroke="#2a8e00" stroke-width="1.15"/>
<rect x="150.54" y="152.27" width="5.0" height="5.0" fill="none" stroke="#2a8e00" stroke-width="1.15"/>
<rect x="156.68" y="155.22" width="5.0" height="5.0" fill="none" stroke="#2a8e00" stroke-width="1.15"/>
<rect x="162.81" y="157.98" width="5.0" height="5.0" fill="none" stroke="#2a8e00" stroke-width="1.15"/>
<rect x="168.95" y="160.62" width="5.0" height="5.0" fill="none" stroke="#2a8e00" stroke-width="1.15"/>
<rect x="175.08" y="163.00" width="5.0" height="5.0" fill="none" stroke="#2a8e00" stroke-width="1.15"/>
<rect x="181.21" y="165.17" width="5.0" height="5.0" fill="none" stroke="#2a8e00" stroke-width="1.15"/>
<rect x="187.35" y="167.28" width="5.0" height="5.0" fill="none" stroke="#2a8e00" stroke-width="1.15"/>
<rect x="193.48" y="169.95" width="5.0" height="5.0" fill="none" stroke="#2a8e00" stroke-width="1.15"/>
<rect x="199.62" y="173.28" width="5.0" height="5.0" fill="none" stroke="#2a8e00" stroke-width="1.15"/>
<rect x="205.75" y="176.03" width="5.0" height="5.0" fill="none" stroke="#2a8e00" stroke-width="1.15"/>
<rect x="211.88" y="180.25" width="5.0" height="5.0" fill="none" stroke="#2a8e00" stroke-width="1.15"/>
<rect x="218.02" y="184.58" width="5.0" height="5.0" fill="none" stroke="#2a8e00" stroke-width="1.15"/>
<rect x="224.15" y="188.65" width="5.0" height="5.0" fill="none" stroke="#2a8e00" stroke-width="1.15"/>
<rect x="230.29" y="192.48" width="5.0" height="5.0" fill="none" stroke="#2a8e00" stroke-width="1.15"/>
<rect x="236.42" y="195.81" width="5.0" height="5.0" fill="none" stroke="#2a8e00" stroke-width="1.15"/>
<rect x="242.55" y="199.06" width="5.0" height="5.0" fill="none" stroke="#2a8e00" stroke-width="1.15"/>
<rect x="248.69" y="201.69" width="5.0" height="5.0" fill="none" stroke="#2a8e00" stroke-width="1.15"/>
<rect x="254.82" y="204.68" width="5.0" height="5.0" fill="none" stroke="#2a8e00" stroke-width="1.15"/>
<rect x="260.96" y="207.88" width="5.0" height="5.0" fill="none" stroke="#2a8e00" stroke-width="1.15"/>
<rect x="267.09" y="211.55" width="5.0" height="5.0" fill="none" stroke="#2a8e00" stroke-width="1.15"/>
<rect x="273.22" y="214.65" width="5.0" height="5.0" fill="none" stroke="#2a8e00" stroke-width="1.15"/>
<rect x="279.36" y="219.28" width="5.0" height="5.0" fill="none" stroke="#2a8e00" stroke-width="1.15"/>
<rect x="285.49" y="223.07" width="5.0" height="5.0" fill="none" stroke="#2a8e00" stroke-width="1.15"/>
<rect x="291.63" y="227.53" width="5.0" height="5.0" fill="none" stroke="#2a8e00" stroke-width="1.15"/>
<rect x="297.76" y="231.95" width="5.0" height="5.0" fill="none" stroke="#2a8e00" stroke-width="1.15"/>
<rect x="306.96" y="237.10" width="5.0" height="5.0" fill="none" stroke="#2a8e00" stroke-width="1.15"/>
<rect x="319.23" y="245.68" width="5.0" height="5.0" fill="none" stroke="#2a8e00" stroke-width="1.15"/>
<rect x="331.50" y="255.18" width="5.0" height="5.0" fill="none" stroke="#2a8e00" stroke-width="1.15"/>
<rect x="343.76" y="262.10" width="5.0" height="5.0" fill="none" stroke="#2a8e00" stroke-width="1.15"/>
<rect x="356.03" y="272.10" width="5.0" height="5.0" fill="none" stroke="#2a8e00" stroke-width="1.15"/>
</g>
<g clip-path="url(#c1)"><polyline points="54.90,105.67 61.03,132.48 67.17,126.25 73.30,123.88 79.44,123.00 85.57,124.13 91.70,126.88 97.84,130.38 103.97,134.38 110.11,137.50 116.24,140.72 122.37,143.50 128.51,146.27 134.64,149.00 140.78,151.70 146.91,154.27 153.04,156.88 159.18,159.55 165.31,162.28 171.45,164.90 177.58,166.77 183.71,168.49 189.85,170.28 195.98,172.60 202.12,175.03 208.25,177.90 214.38,181.40 220.52,185.62 226.65,189.08 232.79,192.70 238.92,195.26 245.05,198.24 251.19,200.69 257.32,203.23 263.46,205.53 269.59,208.90 275.72,212.12 281.86,215.45 287.99,220.12 294.13,224.03 300.26,228.57 309.46,233.12 321.73,240.62 334.00,250.48 346.26,257.12 358.53,266.57" fill="none" stroke="#0000ff" stroke-width="1.1"/>
<path d="M52.00,108.27 L57.80,108.27 L54.90,102.67 Z" fill="#0000ff"/>
<path d="M58.13,135.08 L63.93,135.08 L61.03,129.48 Z" fill="#0000ff"/>
<path d="M64.27,128.85 L70.07,128.85 L67.17,123.25 Z" fill="#0000ff"/>
<path d="M70.40,126.47 L76.20,126.47 L73.30,120.88 Z" fill="#0000ff"/>
<path d="M76.54,125.60 L82.34,125.60 L79.44,120.00 Z" fill="#0000ff"/>
<path d="M82.67,126.73 L88.47,126.73 L85.57,121.13 Z" fill="#0000ff"/>
<path d="M88.80,129.47 L94.60,129.47 L91.70,123.88 Z" fill="#0000ff"/>
<path d="M94.94,132.97 L100.74,132.97 L97.84,127.38 Z" fill="#0000ff"/>
<path d="M101.07,136.97 L106.87,136.97 L103.97,131.38 Z" fill="#0000ff"/>
<path d="M107.21,140.10 L113.01,140.10 L110.11,134.50 Z" fill="#0000ff"/>
<path d="M113.34,143.32 L119.14,143.32 L116.24,137.72 Z" fill="#0000ff"/>
<path d="M119.47,146.10 L125.27,146.10 L122.37,140.50 Z" fill="#0000ff"/>
<path d="M125.61,148.87 L131.41,148.87 L128.51,143.27 Z" fill="#0000ff"/>
<path d="M131.74,151.60 L137.54,151.60 L134.64,146.00 Z" fill="#0000ff"/>
<path d="M137.88,154.30 L143.68,154.30 L140.78,148.70 Z" fill="#0000ff"/>
<path d="M144.01,156.87 L149.81,156.87 L146.91,151.27 Z" fill="#0000ff"/>
<path d="M150.14,159.47 L155.94,159.47 L153.04,153.88 Z" fill="#0000ff"/>
<path d="M156.28,162.15 L162.08,162.15 L159.18,156.55 Z" fill="#0000ff"/>
<path d="M162.41,164.88 L168.21,164.88 L165.31,159.28 Z" fill="#0000ff"/>
<path d="M168.55,167.50 L174.35,167.50 L171.45,161.90 Z" fill="#0000ff"/>
<path d="M174.68,169.37 L180.48,169.37 L177.58,163.77 Z" fill="#0000ff"/>
<path d="M180.81,171.09 L186.61,171.09 L183.71,165.49 Z" fill="#0000ff"/>
<path d="M186.95,172.88 L192.75,172.88 L189.85,167.28 Z" fill="#0000ff"/>
<path d="M193.08,175.20 L198.88,175.20 L195.98,169.60 Z" fill="#0000ff"/>
<path d="M199.22,177.62 L205.02,177.62 L202.12,172.03 Z" fill="#0000ff"/>
<path d="M205.35,180.50 L211.15,180.50 L208.25,174.90 Z" fill="#0000ff"/>
<path d="M211.48,184.00 L217.28,184.00 L214.38,178.40 Z" fill="#0000ff"/>
<path d="M217.62,188.22 L223.42,188.22 L220.52,182.62 Z" fill="#0000ff"/>
<path d="M223.75,191.68 L229.55,191.68 L226.65,186.08 Z" fill="#0000ff"/>
<path d="M229.89,195.30 L235.69,195.30 L232.79,189.70 Z" fill="#0000ff"/>
<path d="M236.02,197.86 L241.82,197.86 L238.92,192.26 Z" fill="#0000ff"/>
<path d="M242.15,200.84 L247.95,200.84 L245.05,195.24 Z" fill="#0000ff"/>
<path d="M248.29,203.29 L254.09,203.29 L251.19,197.69 Z" fill="#0000ff"/>
<path d="M254.42,205.83 L260.22,205.83 L257.32,200.23 Z" fill="#0000ff"/>
<path d="M260.56,208.12 L266.36,208.12 L263.46,202.53 Z" fill="#0000ff"/>
<path d="M266.69,211.50 L272.49,211.50 L269.59,205.90 Z" fill="#0000ff"/>
<path d="M272.82,214.72 L278.62,214.72 L275.72,209.12 Z" fill="#0000ff"/>
<path d="M278.96,218.05 L284.76,218.05 L281.86,212.45 Z" fill="#0000ff"/>
<path d="M285.09,222.72 L290.89,222.72 L287.99,217.12 Z" fill="#0000ff"/>
<path d="M291.23,226.62 L297.03,226.62 L294.13,221.03 Z" fill="#0000ff"/>
<path d="M297.36,231.17 L303.16,231.17 L300.26,225.57 Z" fill="#0000ff"/>
<path d="M306.56,235.72 L312.36,235.72 L309.46,230.12 Z" fill="#0000ff"/>
<path d="M318.83,243.22 L324.63,243.22 L321.73,237.62 Z" fill="#0000ff"/>
<path d="M331.10,253.08 L336.90,253.08 L334.00,247.48 Z" fill="#0000ff"/>
<path d="M343.37,259.73 L349.16,259.73 L346.26,254.12 Z" fill="#0000ff"/>
<path d="M355.63,269.18 L361.43,269.18 L358.53,263.57 Z" fill="#0000ff"/>
</g>
<rect x="45.6" y="17.5" width="325.29999999999995" height="460.0" fill="none" stroke="#000" stroke-width="1.3"/>
<line x1="45.6" y1="317.3" x2="370.9" y2="317.3" stroke="#000" stroke-width="1.1"/>
<rect x="74.0" y="230.9" width="5.4" height="5.4" fill="#000"/>
<line x1="64" y1="246.65" x2="88.5" y2="246.65" stroke="#b05800" stroke-width="0.85" stroke-dasharray="2.6,1.8"/>
<circle cx="76.70" cy="246.65" r="2.6" fill="none" stroke="#b05800" stroke-width="1.1"/>
<line x1="64" y1="259.7" x2="88.5" y2="259.7" stroke="#2a8e00" stroke-width="0.85" stroke-dasharray="2.6,1.8"/>
<rect x="74.20" y="257.20" width="5.0" height="5.0" fill="#fff" stroke="#2a8e00" stroke-width="1.15"/>
<line x1="64" y1="272.75" x2="88.5" y2="272.75" stroke="#0000ff" stroke-width="0.85"/>
<path d="M73.80,275.35 L79.60,275.35 L76.70,269.75 Z" fill="#0000ff"/>
<text x="51" y="13.95" font-size="12.2" text-anchor="start" fill="#000" >2360 GeV pp</text>
<text x="366.3" y="13.95" font-size="12.2" text-anchor="end" fill="#000" >Soft QCD</text>
<text x="135" y="42.4" font-size="11.2" text-anchor="start" fill="#000" textLength="104.5" lengthAdjust="spacing">Charged multiplicity</text>
<text x="241" y="42.9" font-size="9.1" text-anchor="start" fill="#000" textLength="41.5" lengthAdjust="spacing">(|η| &lt; 1.0)</text>
<text x="39.7" y="70.2" font-size="11.7" text-anchor="end" fill="#000" >1</text>
<text x="32.3" y="122.05" font-size="11.7" text-anchor="end">10</text>
<text x="39.2" y="117.65" font-size="7.2" text-anchor="end">−1</text>
<text x="32.3" y="172.40" font-size="11.7" text-anchor="end">10</text>
<text x="39.2" y="168.00" font-size="7.2" text-anchor="end">−2</text>
<text x="32.3" y="222.75" font-size="11.7" text-anchor="end">10</text>
<text x="39.2" y="218.35" font-size="7.2" text-anchor="end">−3</text>
<text x="32.3" y="273.10" font-size="11.7" text-anchor="end">10</text>
<text x="39.2" y="268.70" font-size="7.2" text-anchor="end">−4</text>
<text x="39.2" y="341.3" font-size="11.7" text-anchor="end" fill="#000" >2</text>
<text x="39.2" y="401.6" font-size="11.7" text-anchor="end" fill="#000" >1</text>
<text x="39.2" y="462.2" font-size="11.7" text-anchor="end" fill="#000" >0.5</text>
<text x="373.5" y="341.3" font-size="11.7" text-anchor="start" fill="#000" >2</text>
<text x="373.5" y="401.6" font-size="11.7" text-anchor="start" fill="#000" >1</text>
<text x="373.5" y="462.2" font-size="11.7" text-anchor="start" fill="#000" >0.5</text>
<text x="55.0" y="489.4" font-size="11.9" text-anchor="middle" fill="#000" >0</text>
<text x="177.7" y="489.4" font-size="11.9" text-anchor="middle" fill="#000" textLength="13.6" lengthAdjust="spacing">20</text>
<text x="300.8" y="489.4" font-size="11.9" text-anchor="middle" fill="#000" textLength="13.6" lengthAdjust="spacing">40</text>
<text x="354" y="503" font-size="12.5" text-anchor="start" fill="#000" >N</text>
<text x="362.5" y="506.5" font-size="8.5" text-anchor="start" fill="#000" >ch</text>
<text transform="translate(15.1,59.0) rotate(-90)" font-size="12.9" textLength="33.6" lengthAdjust="spacingAndGlyphs">dN/dN</text>
<text transform="translate(19.3,25.1) rotate(-90)" font-size="8.4" textLength="7" lengthAdjust="spacingAndGlyphs">ch</text>
<text transform="translate(18.1,425.7) rotate(-90)" font-size="8.8" textLength="59.6" lengthAdjust="spacing">Ratio to ALICE</text>
<text transform="translate(379.6,132.4) rotate(-90)" font-size="9.5" fill="#888">Rivet 3.1.10, ≥ 1.5M events</text>
<text transform="translate(380.2,314.3) rotate(-90)" font-size="9.5" fill="#888">mcplots.cern.ch [arXiv:1306.3436]</text>
<text x="94.4" y="236.6" font-size="9.3" text-anchor="start" fill="#000" >ALICE</text>
<text x="94.4" y="249.65" font-size="9.3" text-anchor="start" fill="#000" >Herwig++ 2.7.1 default</text>
<text x="94.4" y="262.7" font-size="9.3" text-anchor="start" fill="#000" >Herwig 7.2.1 default</text>
<text x="94.4" y="275.75" font-size="9.3" text-anchor="start" fill="#000" >Pythia 8.308 default</text>
<text x="165.8" y="302.1" font-size="7.8" text-anchor="start" fill="#999" >ALICE_2010_S8624100</text>
</svg>
</body></html>
